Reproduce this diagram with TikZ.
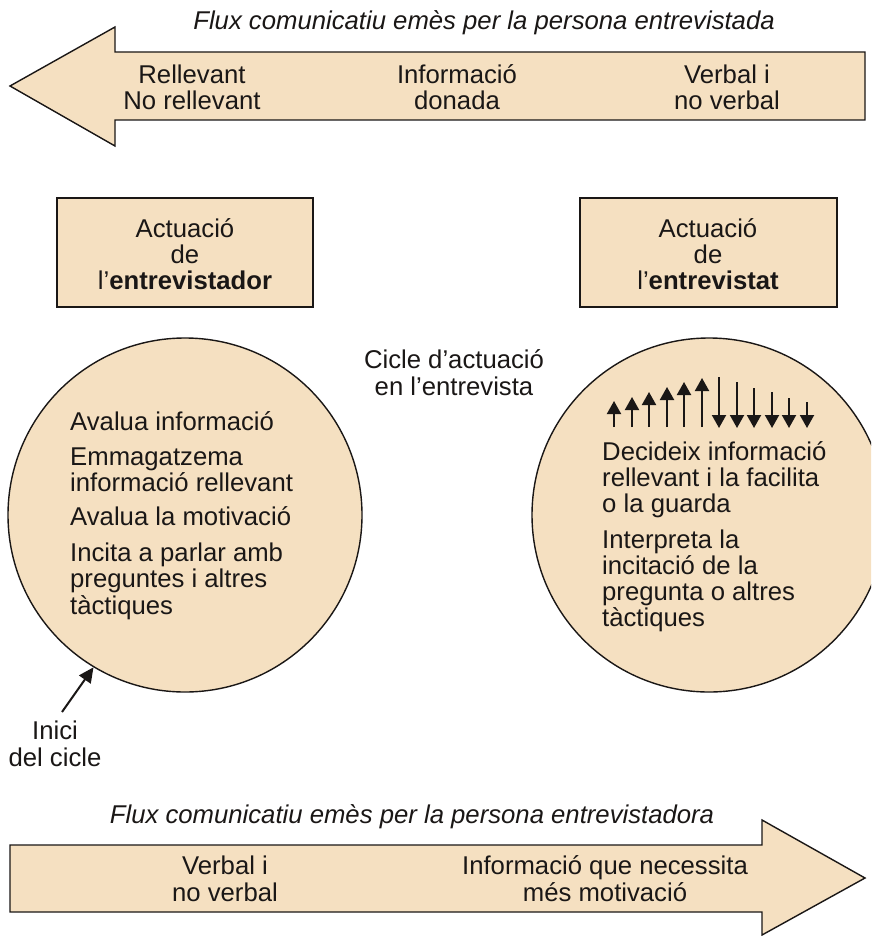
\documentclass[tikz,border=0pt]{standalone}
\usepackage{fontspec}
\setmainfont{Liberation Sans}
\usetikzlibrary{arrows.meta}
\definecolor{beige}{RGB}{245,224,193}
\definecolor{ink}{RGB}{26,23,22}
\tikzset{
  shape fill/.style={fill=beige,draw=ink,line width=1.4pt,line join=miter},
  txt/.style={inner sep=0pt,anchor=base,align=center,font=\fontsize{25.7}{26.3}\selectfont,text=ink},
  ltxt/.style={inner sep=0pt,anchor=base west,align=left,font=\fontsize{25.7}{26.3}\selectfont,text=ink},
  ttl/.style={inner sep=0pt,anchor=base,font=\fontsize{25.7}{26.3}\selectfont\itshape,text=ink},
  smallarrow/.style={draw=ink,line width=2pt,-{Triangle[width=14pt,length=13pt]}},
}
\begin{document}
\begin{tikzpicture}[x=1pt,y=-1pt]
\clip (0,0) rectangle (871,936);
\fill[white] (0,0) rectangle (871,936);
% top arrow
\draw[shape fill] (10,86) -- (115,27) -- (115,52) -- (865,52) -- (865,120) -- (115,120) -- (115,146) -- cycle;
\node[ttl] (t1) at (484,30) {Flux comunicatiu emès per la persona entrevistada};
\node[txt] (a1) at (192,110) {Rellevant\\No rellevant};
\node[txt] (a2) at (457,110) {Informació\\donada};
\node[txt] (a3) at (727,110) {Verbal i\\no verbal};
% boxes
\draw[shape fill] (57,198) rectangle (313,307);
\draw[shape fill] (580,198) rectangle (837,307);
\node[txt] (b1) at (185,289.6) {Actuació\\de\\l’\textbf{entrevistador}};
\node[txt] (b2) at (708,289.6) {Actuació\\de\\l’\textbf{entrevistat}};
\node[txt] (cc) at (454,395) {Cicle d’actuació\\en l’entrevista};
% circles
\node[shape fill,circle,minimum size=354pt,inner sep=0pt] (c1) at (185,515) {};
\node[shape fill,circle,minimum size=354pt,inner sep=0pt] (c2) at (709,515) {};
\node[ltxt] (p1) at (70,430) {Avalua informació};
\node[ltxt] (p2) at (70,491.3) {Emmagatzema\\informació rellevant};
\node[ltxt] (p3) at (70,525) {Avalua la motivació};
\node[ltxt] (p4) at (70,614) {Incita a parlar amb\\preguntes i altres\\tàctiques};
\node[ltxt] (q1) at (602,512.6) {Decideix informació\\rellevant i la facilita\\o la guarda};
\node[ltxt] (q2) at (602,626.9) {Interpreta la\\incitació de la\\pregunta o altres\\tàctiques};
% small arrows
\foreach \x/\t [count=\i] in {614/401,632/397,649/392,667/387,684/382,702/378}{
  \coordinate (u\i s) at (\x,427);
  \coordinate (u\i e) at (\x,\t);
  \draw[smallarrow] (u\i s) -- (u\i e);
}
\foreach \x/\t [count=\i] in {719/377,737/382,754/388,772/392,789/398,807/402}{
  \coordinate (d\i s) at (\x,\t);
  \coordinate (d\i e) at (\x,428);
  \draw[smallarrow] (d\i s) -- (d\i e);
}
% inici
\node[txt] (ini) at (55,766) {Inici\\del cicle};
\coordinate (inis) at (62,712);
\draw[draw=ink,line width=2pt,-{Triangle[width=14pt,length=15pt]}] (inis) -- (c1.-121);
% bottom arrow
\draw[shape fill] (10,845) -- (762,845) -- (762,820) -- (865,878) -- (762,935) -- (762,912) -- (10,912) -- cycle;
\node[ttl] (t2) at (412,823) {Flux comunicatiu emès per la persona entrevistadora};
\node[txt] (e1) at (225,901) {Verbal i\\no verbal};
\node[txt] (e2) at (605,901) {Informació que necessita\\més motivació};
\end{tikzpicture}
\end{document}
